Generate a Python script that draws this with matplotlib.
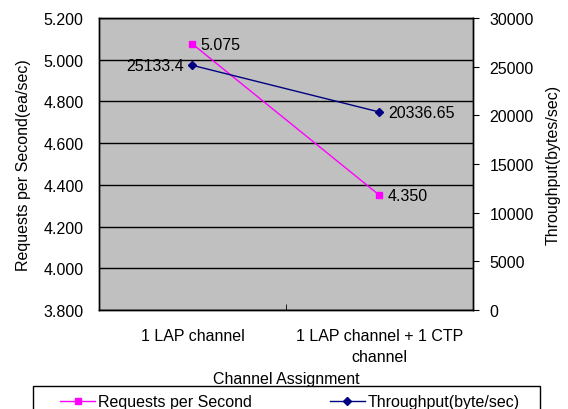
import matplotlib
matplotlib.use('Agg')
import matplotlib.pyplot as plt
from matplotlib.lines import Line2D
from matplotlib.patches import Rectangle

# --- Data ---
categories = ['1 LAP channel', '1 LAP channel + 1 CTP\nchannel']
requests = [5.075, 4.350]
throughput = [25133.4, 20336.65]
req_labels = ['5.075', '4.350']
thr_labels = ['25133.4', '20336.65']

plt.rcParams['font.family'] = ['Liberation Sans', 'DejaVu Sans']
plt.rcParams['font.size'] = 11.5

fig = plt.figure(figsize=(5.68, 4.10), dpi=100)
ax = fig.add_axes([0.1743, 0.2415, 0.6584, 0.7122])
ax.set_facecolor('#c0c0c0')
ax2 = ax.twinx()

x = list(range(len(categories)))

# --- Left axis: requests ---
ax.plot(x, requests, color='#ff00ff', lw=1, marker='s', ms=5, zorder=3)
ax.set_ylim(3.8, 5.2)
ax.set_yticks([3.8 + 0.2 * i for i in range(8)])
ax.set_yticklabels([f'{3.8 + 0.2 * i:.3f}' for i in range(8)])
ax.yaxis.grid(True, color='black', lw=1)
ax.set_axisbelow(True)
ax.tick_params(axis='y', length=0, pad=11)
ax.set_ylabel('Requests per Second(ea/sec)', labelpad=9)

ax.set_xlim(-0.5, 1.5)
ax.set_xticks(x)
ax.set_xticklabels(categories, linespacing=1.5)
ax.set_xticks([0.5], minor=True)
ax.tick_params(axis='x', which='major', length=0, pad=13)
ax.tick_params(axis='x', which='minor', direction='in', length=4)
ax.set_xlabel('Channel Assignment', labelpad=5)

for xi, v, lab in zip(x, requests, req_labels):
    ax.annotate(lab, (xi, v), xytext=(6, 0), textcoords='offset points',
                va='center', ha='left')

# --- Right axis: throughput ---
ax2.plot(x, throughput, color='#000080', lw=1, marker='D', ms=4, zorder=3)
ax2.set_ylim(0, 30000)
ax2.set_yticks(range(0, 30001, 5000))
ax2.tick_params(axis='y', direction='out', length=4, pad=8)
ax2.set_ylabel('Throughput(bytes/sec)', labelpad=8)

ax2.annotate(thr_labels[0], (x[0], throughput[0]), xytext=(-6, 0),
             textcoords='offset points', va='center', ha='right')
ax2.annotate(thr_labels[1], (x[1], throughput[1]), xytext=(6, 0),
             textcoords='offset points', va='center', ha='left')

for a in (ax, ax2):
    for s in a.spines.values():
        s.set_color('black')
        s.set_linewidth(1)

# --- Legend ---
fig.add_artist(Rectangle((33 / 568, -0.05), 507 / 568, 0.05 + 23 / 410,
                         transform=fig.transFigure, facecolor='white',
                         edgecolor='black', lw=1))
handles = [
    Line2D([], [], color='#ff00ff', lw=1, marker='s', ms=5),
    Line2D([], [], color='#000080', lw=1, marker='D', ms=4),
]
leg = fig.legend(handles, ['Requests per Second', 'Throughput(byte/sec)'],
                 ncol=2, loc='center', bbox_to_anchor=(0.51, 7 / 410),
                 frameon=False, handlelength=2.2, handletextpad=0.15,
                 borderpad=0, columnspacing=4.9)

fig.savefig('out.png', dpi=100)
